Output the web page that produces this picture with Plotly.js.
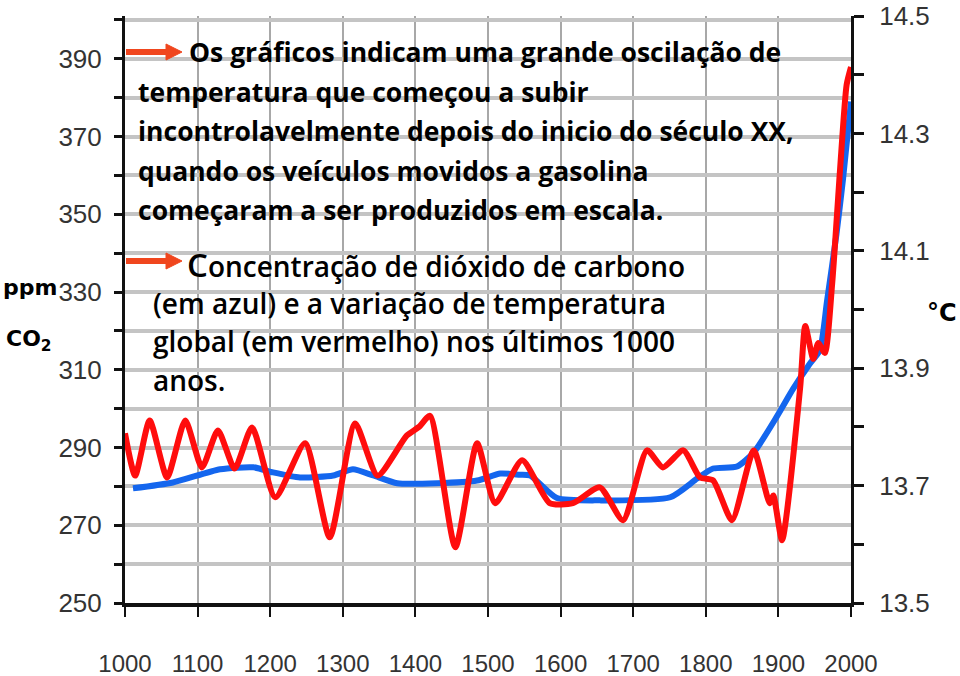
<!DOCTYPE html>
<html>
<head>
<meta charset="utf-8">
<script src="https://cdn.plot.ly/plotly-3.0.1.min.js"></script>
<style>
  html, body { margin: 0; padding: 0; background: #fff; }
  #chart { width: 960px; height: 676px; }
</style>
</head>
<body>
<div id="chart"></div>
<script>
// CO2 (ppm, left axis) - blue
var co2Years = [1011, 1066, 1131, 1177, 1204, 1241, 1287, 1314, 1342, 1375, 1430, 1485, 1517, 1544, 1558, 1595, 1654, 1751, 1788, 1810, 1843, 1866, 1898, 1920, 1943, 1957, 1967, 1980, 1989, 2000];
var co2Ppm   = [279.5, 281, 284.4, 284.9, 283.6, 282.3, 282.8, 284.4, 282.8, 280.8, 280.8, 281.5, 283.3, 283, 282.8, 277, 276.4, 277.2, 282, 284.6, 285.1, 288.7, 298, 305, 311.5, 315, 327.7, 344.9, 359, 379];

// temperature (°C, right axis) - red
var tempYears = [1000, 1014, 1034, 1058, 1083, 1106, 1128, 1151, 1175, 1207, 1248, 1282, 1317, 1348, 1388, 1405, 1420, 1455, 1485, 1510, 1547, 1585, 1617, 1654, 1686, 1719, 1741, 1769, 1792, 1810, 1836, 1866, 1888, 1893, 1905, 1930, 1937, 1948, 1955, 1964, 1974, 1985, 1994, 2000];
var tempC     = [13.789, 13.717, 13.811, 13.714, 13.811, 13.731, 13.794, 13.729, 13.799, 13.680, 13.772, 13.612, 13.806, 13.717, 13.785, 13.800, 13.819, 13.595, 13.772, 13.670, 13.743, 13.670, 13.670, 13.697, 13.641, 13.760, 13.731, 13.760, 13.714, 13.709, 13.641, 13.760, 13.670, 13.683, 13.607, 13.867, 13.972, 13.916, 13.943, 13.926, 14.043, 14.240, 14.383, 14.413];

var yearTicks = [1000, 1100, 1200, 1300, 1400, 1500, 1600, 1700, 1800, 1900, 2000];
var ppmTicks  = [250, 260, 270, 280, 290, 300, 310, 320, 330, 340, 350, 360, 370, 380, 390, 400];
var ppmLabels = ['250', '', '270', '', '290', '', '310', '', '330', '', '350', '', '370', '', '390', ''];
var degTicks  = [13.5, 13.6, 13.7, 13.8, 13.9, 14.0, 14.1, 14.2, 14.3, 14.4, 14.5];
var degLabels = ['13.5', '', '13.7', '', '13.9', '', '14.1', '', '14.3', '', '14.5'];

var text1 = [
  'Os gráficos indicam uma grande oscilação de',
  'temperatura que começou a subir',
  'incontrolavelmente depois do inicio do século XX,',
  'quando os veículos movidos a gasolina',
  'começaram a ser produzidos em escala.'
];
var text2 = [
  '<span style="font-size:33px">C</span>oncentração de dióxido de carbono',
  '(em azul) e a variação de temperatura',
  'global (em vermelho) nos últimos 1000',
  'anos.'
];

// plot box in pixels, to place the notes
var PL = 125, PW = 726, PT = 16, PH = 587;
function px(x) { return (x - PL) / PW; }
function py(y) { return (PT + PH - y) / PH; }

var tickFont = { family: 'Liberation Sans Narrow, Arial Narrow, sans-serif', size: 26, color: '#333' };
var note1Font = { family: 'Open Sans, sans-serif', size: 26.5, color: '#000', weight: 'bold' };
var note2Font = { family: 'Open Sans, sans-serif', size: 28, color: '#000', weight: 600 };
var axisTitleFont = { family: 'DejaVu Sans, sans-serif', size: 22, color: '#000', weight: 'bold' };

var annotations = [];
text1.forEach(function(t, i) {
  annotations.push({
    xref: 'paper', yref: 'paper', x: px(i === 0 ? 187 : 136), y: py(52 + i * 39.5),
    xanchor: 'left', yanchor: 'middle', showarrow: false, text: t, font: note1Font
  });
});
text2.forEach(function(t, i) {
  annotations.push({
    xref: 'paper', yref: 'paper', x: px(i === 0 ? 185 : 151), y: py(264 + i * 38.5),
    xanchor: 'left', yanchor: 'middle', showarrow: false, text: t, font: note2Font
  });
});
annotations.push(
  { xref: 'paper', yref: 'paper', x: px(30), y: py(287), xanchor: 'center', yanchor: 'middle',
    showarrow: false, text: 'ppm', font: axisTitleFont },
  { xref: 'paper', yref: 'paper', x: px(29), y: py(340), xanchor: 'center', yanchor: 'middle',
    showarrow: false, text: 'CO<sub>2</sub>', font: axisTitleFont },
  { xref: 'paper', yref: 'paper', x: px(942), y: py(313), xanchor: 'center', yanchor: 'middle',
    showarrow: false, text: '°C', font: { family: 'DejaVu Sans, sans-serif', size: 24, color: '#000', weight: 'bold' } }
);

// orange arrows in front of the two notes
function arrowShapes(yc) {
  var c = '#f0461e';
  return [
    { type: 'line', xref: 'paper', yref: 'paper', x0: px(126), x1: px(168), y0: py(yc), y1: py(yc),
      line: { color: c, width: 6 } },
    { type: 'path', xref: 'paper', yref: 'paper',
      path: 'M' + px(166) + ',' + py(yc - 8) + ' L' + px(182) + ',' + py(yc) + ' L' + px(166) + ',' + py(yc + 8) + ' Z',
      fillcolor: c, line: { color: c, width: 1 } }
  ];
}

var co2Trace = {
  x: co2Years, y: co2Ppm, yaxis: 'y', mode: 'lines', name: 'CO2',
  line: { color: '#1466ee', width: 6, shape: 'spline', smoothing: 0.6 },
  hoverinfo: 'skip'
};
var tempTrace = {
  x: tempYears, y: tempC, yaxis: 'y2', mode: 'lines', name: 'Temperatura',
  line: { color: '#ff0d0d', width: 6, shape: 'spline', smoothing: 0.6 },
  hoverinfo: 'skip'
};

var layout = {
  width: 960,
  height: 676,
  margin: { l: 125, r: 109, t: 16, b: 73, pad: 0 },
  paper_bgcolor: '#fff',
  plot_bgcolor: '#fff',
  showlegend: false,
  xaxis: {
    range: [1000, 2000],
    tickvals: yearTicks,
    ticks: 'outside', ticklen: 10, tickwidth: 2, tickcolor: '#111',
    showline: true, linecolor: '#111', linewidth: 4,
    showgrid: true, gridcolor: '#a8a8a8', gridwidth: 2,
    zeroline: false,
    tickfont: { family: 'Liberation Sans Narrow, Arial Narrow, sans-serif', size: 24, color: '#333' },
    ticklabelstandoff: 26,
    ticklabeloverflow: 'allow'
  },
  yaxis: {
    range: [250, 401],
    tickvals: ppmTicks, ticktext: ppmLabels,
    ticks: 'outside', ticklen: 8, tickwidth: 3, tickcolor: '#111',
    showline: true, linecolor: '#111', linewidth: 3,
    showgrid: true, gridcolor: '#c4c4c4', gridwidth: 4,
    zeroline: false,
    tickfont: tickFont,
    ticklabelstandoff: 7,
    ticklabeloverflow: 'allow'
  },
  yaxis2: {
    overlaying: 'y', side: 'right',
    range: [13.5, 14.5],
    tickvals: degTicks, ticktext: degLabels,
    ticks: 'outside', ticklen: 10, tickwidth: 3, tickcolor: '#111',
    showline: true, linecolor: '#111', linewidth: 3,
    showgrid: false, zeroline: false,
    tickfont: tickFont,
    ticklabelstandoff: 10,
    ticklabeloverflow: 'allow'
  },
  annotations: annotations,
  shapes: arrowShapes(52).concat(arrowShapes(261))
};

Plotly.newPlot('chart', [co2Trace, tempTrace], layout, { displayModeBar: false, staticPlot: true });
</script>
</body>
</html>
